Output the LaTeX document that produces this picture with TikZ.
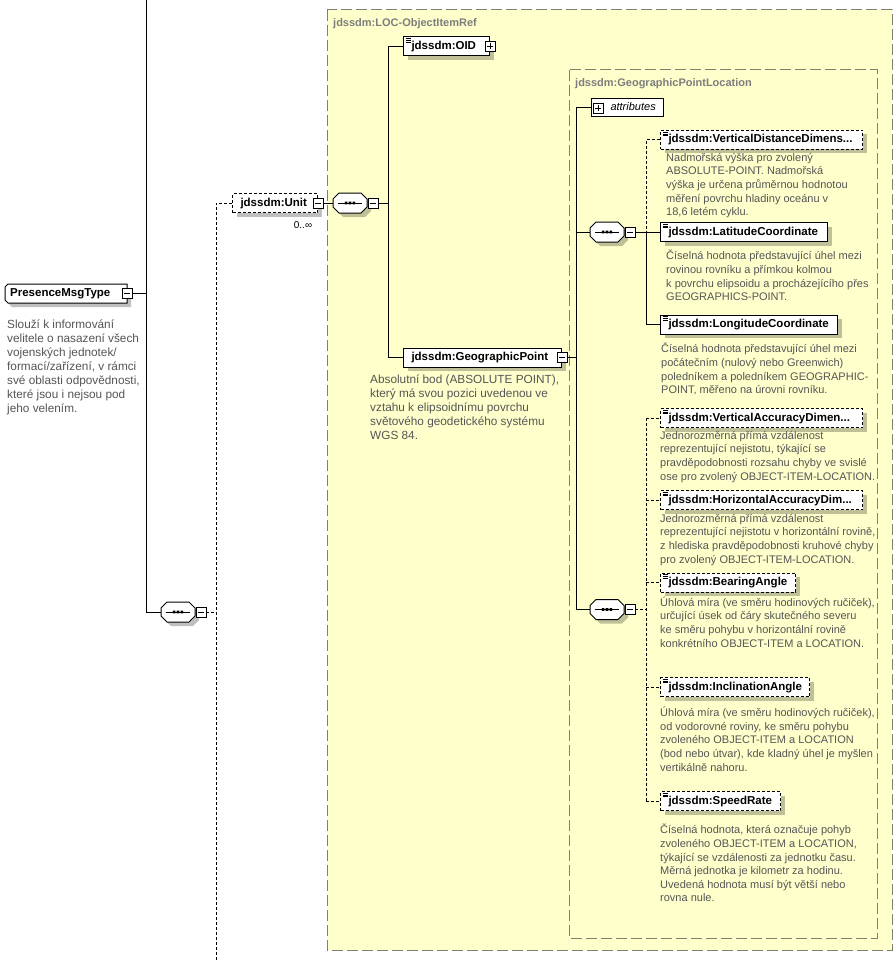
\documentclass[tikz,border=0pt]{standalone}
\usepackage{fontspec}
\setmainfont{Liberation Sans}
\usetikzlibrary{shadows,calc}
\definecolor{ybg}{RGB}{255,255,204}
\definecolor{yborder}{RGB}{128,128,112}
\definecolor{lblgray}{RGB}{125,125,125}
\definecolor{descgray}{RGB}{85,85,85}
\newcommand\elab[2]{\makebox[#1pt][l]{\hspace{8pt}#2}}
\newcommand\seqc[3]{%
 \begin{scope}[shift={(#2,#3)}]
  \fill[black,opacity=0.25] (-7,-6) -- (15,-6) -- (21,0) -- (21,8) -- (15,14) -- (-7,14) -- (-13,8) -- (-13,0) -- cycle;
  \draw[fill=white,line width=1pt] (-11,-10) -- (11,-10) -- (17,-4) -- (17,4) -- (11,10) -- (-11,10) -- (-17,4) -- (-17,-4) -- cycle;
  \draw[line width=1pt] (-12,0) -- (12,0);
  \fill (-5.2,-1.3) rectangle (-2.6,1.3) (-1.3,-1.3) rectangle (1.3,1.3) (2.6,-1.3) rectangle (5.2,1.3);
  \node[inner sep=0pt,minimum width=34pt,minimum height=20pt] (#1) at (0,0) {};
  \node[minus] (#1m) at (23,0) {};
 \end{scope}}
\begin{document}
\begin{tikzpicture}[x=1pt,y=-1pt,
 shd/.style={general shadow={fill=black,opacity=0.25,shadow xshift=4pt,shadow yshift=-4pt}},
 elem/.style={draw,fill=white,shd,inner sep=0pt,minimum height=19pt,anchor=west,line width=1pt,
   font=\bfseries\fontsize{11.5}{13}\selectfont,text height=8.5pt,text depth=2.5pt},
 opt/.style={elem,dash pattern=on 3pt off 2pt},
 icon/.style={path picture={\foreach \d in {1.5,3.3,5.1}{\draw[line width=0.5pt,solid] ([xshift=2pt,yshift=-\d pt]path picture bounding box.north west) -- ++(5pt,0pt);}}},
 pmbox/.style={draw,fill=white,solid,inner sep=0pt,minimum size=10pt,line width=0.8pt},
 minus/.style={pmbox,path picture={\draw[line width=0.8pt] ([xshift=2pt]path picture bounding box.west) -- ([xshift=-2pt]path picture bounding box.east);}},
 plus/.style={pmbox,path picture={\draw[line width=0.8pt] ([xshift=2pt]path picture bounding box.west) -- ([xshift=-2pt]path picture bounding box.east) ([yshift=2pt]path picture bounding box.south) -- ([yshift=-2pt]path picture bounding box.north);}},
 conn/.style={line width=1pt},
 dconn/.style={line width=1pt,dash pattern=on 3pt off 2pt},
 ybox/.style={fill=ybg,draw=yborder,line width=1pt,dash pattern=on 11pt off 4pt},
 boxlbl/.style={anchor=base west,inner sep=0pt,text=lblgray,font=\bfseries\fontsize{11}{13}\selectfont},
 desc/.style={anchor=north west,inner sep=0pt,align=left,text=descgray,font=\fontsize{11}{13.6}\selectfont,execute at begin node={\rule{0pt}{11pt}}},
 descl/.style={desc,font=\fontsize{11.8}{14}\selectfont}
]
\path[use as bounding box,fill=white] (0,0) rectangle (895,960);

% complex type boxes
\draw[ybox] (327,10) rectangle (892,950);
\node[boxlbl] (lbl1) at (333,27) {jdssdm:LOC-ObjectItemRef};
\draw[ybox] (569,70) rectangle (877,938);
\node[boxlbl] (lbl2) at (575,87) {jdssdm:GeographicPointLocation};

% PresenceMsgType
\fill[black,opacity=0.25] (12,288) -- (131,288) -- (131,307) -- (12,307) -- (9,304) -- (9,291) -- cycle;
\draw[fill=white,line width=1pt] (8,284) -- (127,284) -- (127,303) -- (8,303) -- (5,300) -- (5,287) -- cycle;
\node[anchor=west,inner sep=0pt,minimum height=19pt,font=\bfseries\fontsize{11.5}{13}\selectfont,text height=8.5pt,text depth=2.5pt] (pres) at (5,293.5) {\makebox[122pt][l]{\hspace{5pt}PresenceMsgType}};
\node[minus] (presm) at (127,293.5) {};
\node[descl] (dpres) at (7,320) {Slouží k informování\\velitele o nasazení všech\\vojenských jednotek/\\formací/zařízení, v rámci\\své oblasti odpovědnosti,\\které jsou i nejsou pod\\jeho velením.};

% trunk
\coordinate (ttop) at (146,0);
\coordinate (tbot) at (216,960);
\seqc{seqL}{178}{612}
\draw[conn] (presm.east) -- (presm.east -| ttop);
\draw[conn] (ttop) |- (seqL.west);
\draw[dconn] (seqLm.east) -- (seqLm.east -| tbot);

% Unit
\node[opt] (unit) at (232,203) {\elab{85}{jdssdm:Unit}};
\node[minus] (unitm) at (unit.east) {};
\node[inner sep=0pt,font=\fontsize{10}{12}\selectfont] (unitocc) at (303,225) {0..∞};
\draw[dconn] (tbot) |- (unit.west);
\seqc{seqU}{350}{203}
\draw[conn] (unitm.east) -- (seqU.west);

% LOC-ObjectItemRef content
\node[elem,icon] (oid) at (403,46.5) {\elab{86}{jdssdm:OID}};
\node[plus] (oidp) at (oid.east) {};
\node[elem] (geo) at (403,357.5) {\elab{158}{jdssdm:GeographicPoint}};
\node[minus] (geom) at (geo.east) {};
\node[descl] (dgeo) at (370,375) {Absolutní bod (ABSOLUTE POINT),\\který má svou pozici uvedenou ve\\vztahu k elipsoidnímu povrchu\\světového geodetického systému\\WGS 84.};
\coordinate (j1) at (388,203);
\draw[conn] (seqUm.east) -- (j1);
\draw[conn] (oid.west) -| (j1);
\draw[conn] (geo.west) -| (j1);

% GeographicPointLocation content
\node[draw,fill=white,anchor=west,minimum height=18pt,inner sep=0pt,line width=1pt,font=\itshape\fontsize{11}{13}\selectfont,text height=8pt,text depth=2.5pt] (attr) at (591,108) {\makebox[72pt][l]{\hspace{19pt}attributes}};
\node[plus] (attrp) at (598,108) {};
\seqc{seqA}{607}{232}
\seqc{seqB}{607}{609.5}
\coordinate (j2) at (576,357.5);
\draw[conn] (geom.east) -- (j2);
\draw[conn] (attr.west) -| (j2);
\draw[conn] (seqA.west) -| (j2);
\draw[conn] (seqB.west) -| (j2);

% first sequence
\node[opt,icon] (vdist) at (660,140) {\elab{202}{jdssdm:VerticalDistanceDimens...}};
\node[desc] (dvdist) at (666,153) {Nadmořská výška pro zvolený\\ABSOLUTE-POINT. Nadmořská\\výška je určena průměrnou hodnotou\\měření povrchu hladiny oceánu v\\18,6 letém cyklu.};
\node[elem,icon] (lat) at (660,232) {\elab{167}{jdssdm:LatitudeCoordinate}};
\node[desc] (dlat) at (666,250) {Číselná hodnota představující úhel mezi\\rovinou rovníku a přímkou kolmou\\k povrchu elipsoidu a procházejícího přes\\GEOGRAPHICS-POINT.};
\node[elem,icon] (lon) at (660,324.5) {\elab{177}{jdssdm:LongitudeCoordinate}};
\node[desc] (dlon) at (661,343) {Číselná hodnota představující úhel mezi\\počátečním (nulový nebo Greenwich)\\poledníkem a poledníkem GEOGRAPHIC-\\POINT, měřeno na úrovni rovníku.};
\coordinate (j3) at (646,232);
\draw[conn] (seqAm.east) -- (j3);
\draw[conn] (lat.west) -- (j3);
\draw[conn] (lon.west) -| (j3);
\draw[dconn] (vdist.west) -| (j3);

% second sequence
\node[opt,icon] (vacc) at (660,418) {\elab{202}{jdssdm:VerticalAccuracyDimen...}};
\node[desc] (dvacc) at (660,431) {Jednorozměrná přímá vzdálenost\\reprezentující nejistotu, týkající se\\pravděpodobnosti rozsahu chyby ve svislé\\ose pro zvolený OBJECT-ITEM-LOCATION.};
\node[opt,icon] (hacc) at (660,500) {\elab{202}{jdssdm:HorizontalAccuracyDim...}};
\node[desc] (dhacc) at (660,514) {Jednorozměrná přímá vzdálenost\\reprezentující nejistotu v horizontální rovině,\\z hlediska pravděpodobnosti kruhové chyby\\pro zvolený OBJECT-ITEM-LOCATION.};
\node[opt,icon] (bear) at (660,582.5) {\elab{135}{jdssdm:BearingAngle}};
\node[desc] (dbear) at (660,596.5) {Úhlová míra (ve směru hodinových ručiček),\\určující úsek od čáry skutečného severu\\ke směru pohybu v horizontální rovině\\konkrétního OBJECT-ITEM a LOCATION.};
\node[opt,icon] (incl) at (660,687) {\elab{149}{jdssdm:InclinationAngle}};
\node[desc] (dincl) at (660,707) {Úhlová míra (ve směru hodinových ručiček),\\od vodorovné roviny, ke směru pohybu\\zvoleného OBJECT-ITEM a LOCATION\\(bod nebo útvar), kde kladný úhel je myšlen\\vertikálně nahoru.};
\node[opt,icon] (speed) at (660,801) {\elab{120}{jdssdm:SpeedRate}};
\node[desc] (dspeed) at (660,824) {Číselná hodnota, která označuje pohyb\\zvoleného OBJECT-ITEM a LOCATION,\\týkající se vzdálenosti za jednotku času.\\Měrná jednotka je kilometr za hodinu.\\Uvedená hodnota musí být větší nebo\\rovna nule.};
\coordinate (j4) at (646,609.5);
\draw[dconn] (seqBm.east) -- (j4);
\draw[dconn] (vacc.west -| j4) -- (speed.west -| j4);
\draw[dconn] (vacc.west -| j4) -- (vacc.west);
\draw[dconn] (hacc.west -| j4) -- (hacc.west);
\draw[dconn] (bear.west -| j4) -- (bear.west);
\draw[dconn] (incl.west -| j4) -- (incl.west);
\draw[dconn] (speed.west -| j4) -- (speed.west);
\end{tikzpicture}
\end{document}
